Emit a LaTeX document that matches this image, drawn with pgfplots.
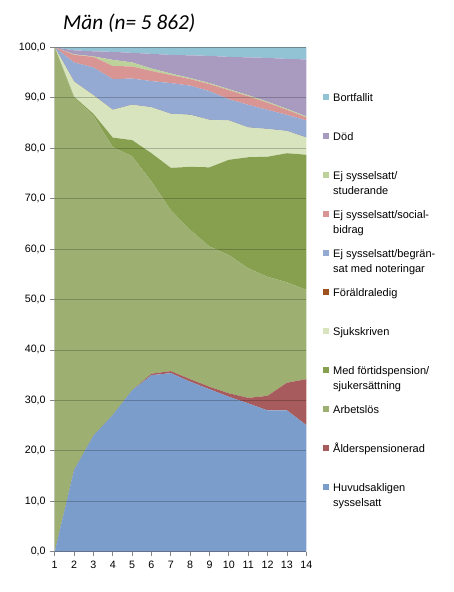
\documentclass[border=0pt]{standalone}
\usepackage{pgfplots}
\pgfplotsset{compat=1.18}
\usepackage{fontspec}
\setmainfont{Liberation Sans}
\newfontfamily\titlefont{Carlito}
\definecolor{cHuv}{HTML}{7B9DCC}
\definecolor{cAld}{HTML}{A85B5C}
\definecolor{cArb}{HTML}{9DB071}
\definecolor{cFor}{HTML}{86A050}
\definecolor{cSju}{HTML}{D8E4BE}
\definecolor{cFld}{HTML}{A0521E}
\definecolor{cBeg}{HTML}{94AAD3}
\definecolor{cSoc}{HTML}{D99594}
\definecolor{cStu}{HTML}{BDD19A}
\definecolor{cDod}{HTML}{A99BC0}
\definecolor{cBor}{HTML}{92C3D5}
\definecolor{axgray}{HTML}{868686}
\newcommand{\two}[2]{\smash{\begin{tabular}[t]{@{}l@{}}#1\\[1.5pt]#2\end{tabular}}}
\begin{document}
\begin{tikzpicture}
\path[use as bounding box] (-54.7pt,-40.3pt) rectangle (398.3pt,551.7pt);
\begin{axis}[
  at={(0pt,0pt)}, anchor=south west,
  scale only axis, width=251.6pt, height=504.4pt,
  xmin=1, xmax=14, ymin=0, ymax=100,
  stack plots=y,
  axis on top,
  axis line style={draw=none},
  xtick={1,...,14}, ytick={0,10,...,100},
  xtick pos=bottom, ytick pos=left, tick align=outside,
  major tick length=4.5pt,
  tick style={axgray, line width=0.8pt},
  ymajorgrids, grid style={black, opacity=0.22, line width=0.8pt},
  /pgf/number format/assume math mode=true,
  yticklabel style={/pgf/number format/fixed, /pgf/number format/fixed zerofill, /pgf/number format/precision=1, /pgf/number format/use comma, xshift=-1pt},
  ticklabel style={font=\fontsize{10.7}{12}\selectfont},
  xticklabel style={yshift=-1pt},
  reverse legend,
  legend cell align=left,
  legend style={at={(rel axis cs:1.0664,0.9074)}, anchor=north west, draw=none, fill=none,
    inner sep=0pt, row sep=30.5pt, column sep=4pt,
    font=\fontsize{11}{14}\selectfont,
    nodes={inner sep=0pt},
    cells={anchor=base west}},
  legend image code/.code={\fill[#1] (0pt,1pt) rectangle (6pt,7pt);},
]
\addplot[fill=cHuv, draw=none] coordinates {(1,0) (2,16.2) (3,23.0) (4,27.1) (5,32.0) (6,35.0) (7,35.4) (8,33.7) (9,32.2) (10,30.7) (11,29.4) (12,28.0) (13,28.0) (14,25.1)} \closedcycle;
\addlegendentry{\two{Huvudsakligen}{sysselsatt}}
\addplot[fill=cAld, draw=none] coordinates {(1,0) (2,0) (3,0) (4,0) (5,0) (6,0.3) (7,0.4) (8,0.5) (9,0.5) (10,0.7) (11,1.1) (12,2.9) (13,5.5) (14,9.1)} \closedcycle;
\addlegendentry{\smash{Ålderspensionerad}}
\addplot[fill=cArb, draw=none] coordinates {(1,100) (2,73.8) (3,63.4) (4,53.1) (5,46.4) (6,38.1) (7,31.9) (8,29.6) (9,27.8) (10,27.4) (11,25.7) (12,23.6) (13,19.9) (14,17.7)} \closedcycle;
\addlegendentry{\smash{Arbetslös}}
\addplot[fill=cFor, draw=none] coordinates {(1,0) (2,0.2) (3,0.4) (4,1.9) (5,3.2) (6,5.6) (7,8.4) (8,12.5) (9,15.7) (10,18.9) (11,22.0) (12,23.8) (13,25.6) (14,26.8)} \closedcycle;
\addlegendentry{\two{Med förtidspension/}{sjukersättning}}
\addplot[fill=cSju, draw=none] coordinates {(1,0) (2,3.0) (3,3.7) (4,5.5) (5,7.0) (6,9.1) (7,10.7) (8,10.3) (9,9.4) (10,7.8) (11,5.9) (12,5.5) (13,4.4) (14,3.4)} \closedcycle;
\addlegendentry{\smash{Sjukskriven}}
\addplot[fill=cFld, draw=none] coordinates {(1,0) (2,0) (3,0) (4,0) (5,0) (6,0) (7,0) (8,0) (9,0) (10,0) (11,0) (12,0) (13,0) (14,0)} \closedcycle;
\addlegendentry{\smash{Föräldraledig}}
\addplot[fill=cBeg, draw=none] coordinates {(1,0) (2,3.8) (3,5.5) (4,6.1) (5,5.2) (6,5.2) (7,6.1) (8,5.8) (9,5.7) (10,4.2) (11,4.5) (12,3.8) (13,3.2) (14,3.4)} \closedcycle;
\addlegendentry{\two{Ej sysselsatt/begrän-}{sat med noteringar}}
\addplot[fill=cSoc, draw=none] coordinates {(1,0) (2,1.5) (3,2.1) (4,2.6) (5,2.4) (6,2.0) (7,1.6) (8,1.3) (9,1.4) (10,1.8) (11,1.7) (12,1.4) (13,1.0) (14,0.6)} \closedcycle;
\addlegendentry{\two{Ej sysselsatt/social-}{bidrag}}
\addplot[fill=cStu, draw=none] coordinates {(1,0) (2,0.1) (3,0.1) (4,1.2) (5,0.8) (6,0.5) (7,0.3) (8,0.2) (9,0.2) (10,0.2) (11,0.2) (12,0.2) (13,0.2) (14,0.2)} \closedcycle;
\addlegendentry{\two{Ej sysselsatt/}{studerande}}
\addplot[fill=cDod, draw=none] coordinates {(1,0) (2,0.8) (3,1.0) (4,1.6) (5,1.9) (6,2.9) (7,3.7) (8,4.5) (9,5.4) (10,6.4) (11,7.5) (12,8.7) (13,9.9) (14,11.3)} \closedcycle;
\addlegendentry{\smash{Död}}
\addplot[fill=cBor, draw=none] coordinates {(1,0) (2,0.6) (3,0.8) (4,0.9) (5,1.1) (6,1.3) (7,1.5) (8,1.6) (9,1.7) (10,1.9) (11,2.0) (12,2.1) (13,2.3) (14,2.4)} \closedcycle;
\addlegendentry{\smash{Bortfallit}}
\draw[axgray, line width=0.8pt] (rel axis cs:0,1) -- (rel axis cs:1,1);
\draw[axgray, line width=0.8pt] (rel axis cs:0,0) -- (rel axis cs:0,1);
\draw[axgray, line width=0.8pt] (rel axis cs:0,0) -- (rel axis cs:1,0);
\end{axis}
\node[anchor=base west, inner sep=0pt, font=\titlefont\itshape\fontsize{21.3}{25}\selectfont] at (8.3pt,521.7pt) {Män (n= 5 862)};
\end{tikzpicture}
\end{document}
